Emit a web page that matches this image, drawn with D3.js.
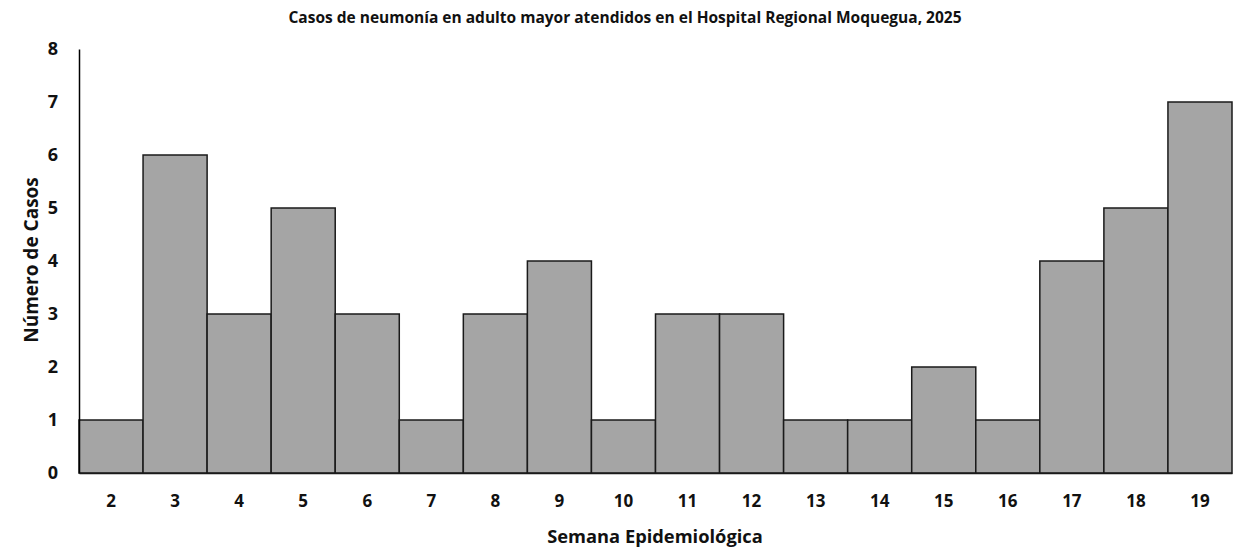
<!DOCTYPE html>
<html><head><meta charset="utf-8">
<script src="https://cdn.jsdelivr.net/npm/d3@7"></script>
<style>body{margin:0;background:#fff}svg{display:block;font-family:"Open Sans",sans-serif}</style>
</head><body>
<script>
const weeks = ["2","3","4","5","6","7","8","9","10","11","12","13","14","15","16","17","18","19"];
const cases = [1,6,3,5,3,1,3,4,1,3,3,1,1,2,1,4,5,7];
const yTicks = [0,1,2,3,4,5,6,7,8];
const title = "Casos de neumonía en adulto mayor atendidos en el Hospital Regional Moquegua, 2025";

const W=1248,H=549, L=79, R=1232, T=49, B=473;
const svg=d3.select("body").append("svg").attr("width",W).attr("height",H);
const x=d3.scaleBand().domain(weeks).range([L,R]).padding(0);
const y=d3.scaleLinear().domain([0,8]).range([B,T]);

svg.append("text").attr("x",625).attr("y",23).attr("text-anchor","middle")
  .attr("font-size",15.5).attr("font-weight","bold").attr("fill","#111").text(title);

svg.selectAll("rect.bar").data(cases).join("rect").attr("class","bar")
  .attr("x",(d,i)=>x(weeks[i])).attr("width",x.bandwidth())
  .attr("y",d=>y(d)).attr("height",d=>y(0)-y(d))
  .attr("fill","#a5a5a5").attr("stroke","#1a1a1a").attr("stroke-width",1.5);

const ya=svg.append("g").attr("transform",`translate(${L},0)`)
  .call(d3.axisLeft(y).tickValues(yTicks).tickSize(0).tickPadding(21).tickFormat(d3.format("d")));
ya.select(".domain").attr("stroke","#000").attr("stroke-width",1.5);
ya.selectAll("text").attr("font-size",18).attr("font-weight","bold").attr("fill","#111")
  .attr("font-family","'Open Sans',sans-serif");

const xa=svg.append("g").attr("transform",`translate(0,${B})`)
  .call(d3.axisBottom(x).tickSize(0).tickPadding(22));
xa.select(".domain").attr("stroke","#1a1a1a").attr("stroke-width",1.5);
xa.selectAll("text").attr("font-size",17).attr("font-weight","bold").attr("fill","#111")
  .attr("font-family","'Open Sans',sans-serif");

svg.append("text").attr("x",655).attr("y",543).attr("text-anchor","middle")
  .attr("font-size",18.3).attr("font-weight","bold").attr("fill","#111").text("Semana Epidemiológica");
svg.append("text").attr("transform","translate(38,260) rotate(-90)").attr("text-anchor","middle")
  .attr("font-size",19).attr("font-weight","bold").attr("fill","#111").text("Número de Casos");
</script>
</body></html>
